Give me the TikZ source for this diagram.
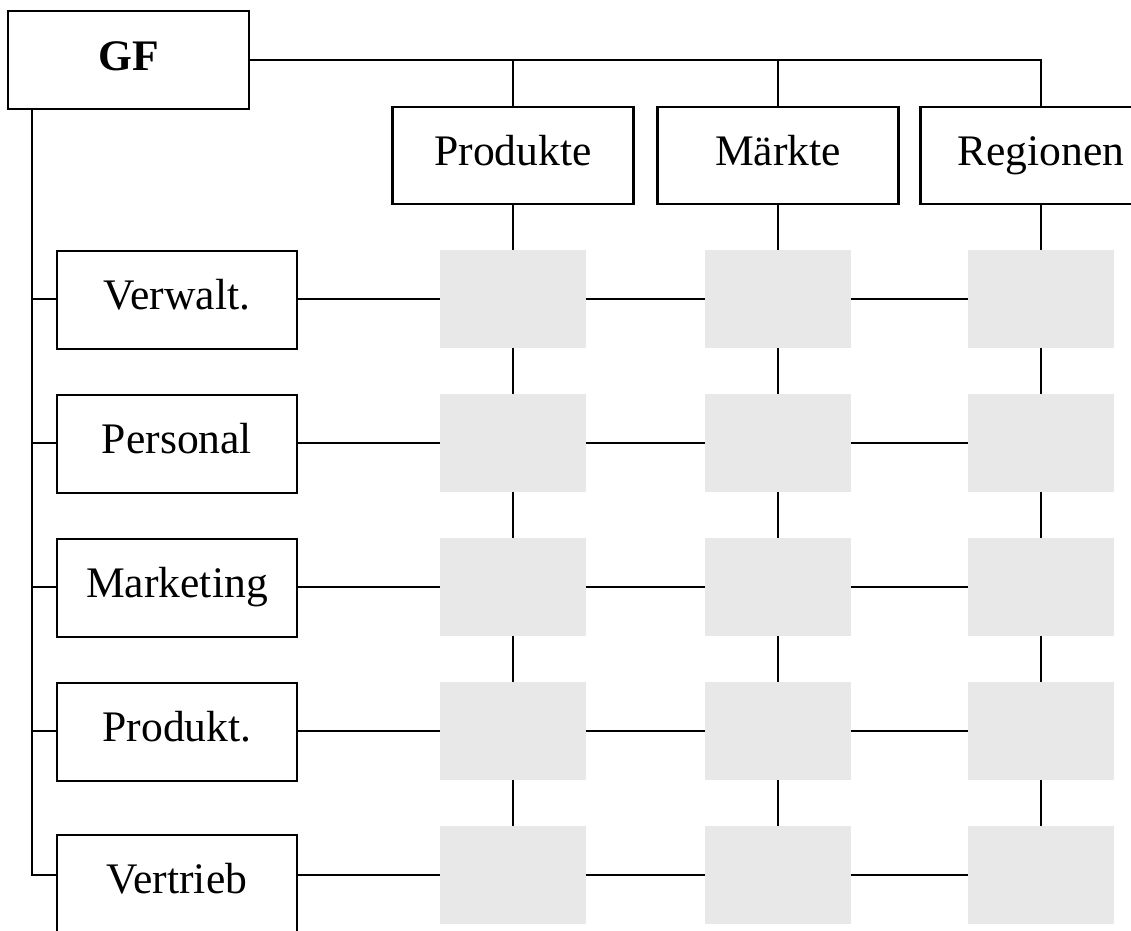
\documentclass[tikz,border=0pt]{standalone}
\usepackage{fontspec}
\setmainfont{Liberation Serif}
\usetikzlibrary{positioning}
\definecolor{cellgray}{RGB}{232,232,232}
\tikzset{
    unitbox/.style={draw, line width=1.5pt, inner sep=0pt, minimum width=6cm, minimum height=2.45cm,
        text height=0.75cm, text depth=0.27cm, font=\fontsize{31}{36}\selectfont},
    cell/.style={fill=cellgray, inner sep=0pt, minimum width=3.625cm, minimum height=2.425cm},
    link/.style={line width=1.5pt},
}

\begin{document}
\begin{tikzpicture}[x=0.025cm, y=-0.025cm]
    \useasboundingbox (0,0) rectangle (1131,931);

    % Geschaeftsfuehrung
    \node[unitbox, minimum width=6.025cm, text depth=0.22cm, font=\fontsize{31}{36}\selectfont\bfseries] (gf) at (128.5,60) {GF};

    % Sparten
    \node[unitbox, minimum width=6.025cm, minimum height=2.425cm] (prod) at (513,155.5) {Produkte};
    \node[unitbox, minimum width=6.025cm, minimum height=2.425cm] (mark) at (778,155.5) {Märkte};
    \node[unitbox, minimum width=6.025cm, minimum height=2.425cm] (reg) at (1041,155.5) {Regionen};

    % Funktionen
    \node[unitbox] (verw) at (177,300) {Verwalt.};
    \node[unitbox] (pers) at (177,444) {Personal};
    \node[unitbox] (mkt) at (177,588) {Marketing};
    \node[unitbox] (prdk) at (177,732) {Produkt.};
    \node[unitbox] (vert) at (177,884) {Vertrieb};

    % Matrixzellen
    \foreach \col/\x in {1/513, 2/778, 3/1041}
        \foreach \row in {1,...,5}
            \node[cell] (c-\row-\col) at (\x,{299+144*(\row-1)}) {};

    % GF zu Sparten
    \draw[link] (gf.east) -| (reg.north);
    \draw[link] (gf.east -| prod.north) -- (prod.north);
    \draw[link] (gf.east -| mark.north) -- (mark.north);

    % Sparten nach unten
    \foreach \head/\col in {prod/1, mark/2, reg/3} {
        \draw[link] (\head.south) -- (c-1-\col.north);
        \foreach \row [evaluate=\row as \nxt using int(\row+1)] in {1,...,4}
            \draw[link] (c-\row-\col.south) -- (c-\nxt-\col.north);
    }

    % GF zu Funktionen
    \coordinate (spine) at ([xshift=0.625cm]gf.south west);
    \draw[link] (spine) |- (vert.west |- c-5-1.west);
    \foreach \name/\row in {verw/1, pers/2, mkt/3, prdk/4}
        \draw[link] (spine |- c-\row-1.west) -- (\name.west |- c-\row-1.west);

    % Funktionen nach rechts
    \foreach \name/\row in {verw/1, pers/2, mkt/3, prdk/4, vert/5} {
        \draw[link] (\name.east |- c-\row-1.west) -- (c-\row-1.west);
        \draw[link] (c-\row-1.east) -- (c-\row-2.west);
        \draw[link] (c-\row-2.east) -- (c-\row-3.west);
    }

\end{tikzpicture}
\end{document}
